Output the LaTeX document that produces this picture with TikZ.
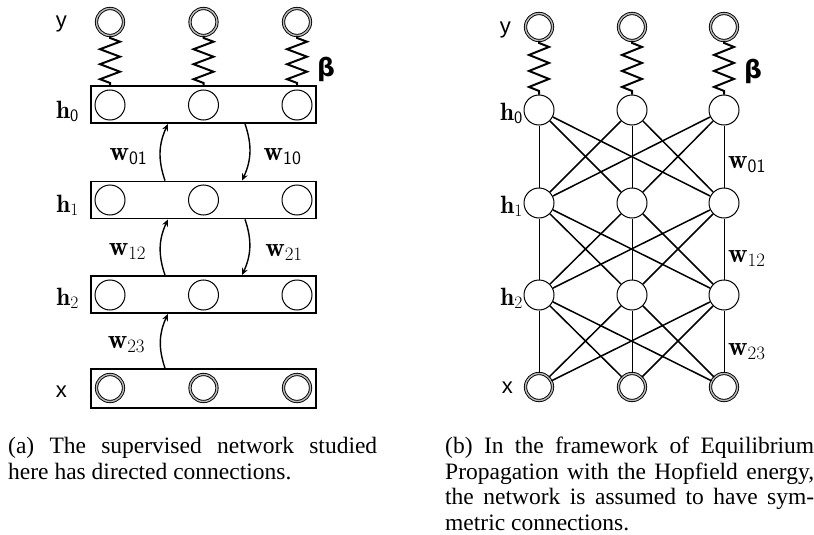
\documentclass[tikz,border=0pt]{standalone}
\usepackage{fix-cm}
\usepackage{fontspec}
\newfontfamily\capfont{Liberation Serif}
\newfontfamily\labelsans{Liberation Sans}
\newfontfamily\betafont{DejaVu Sans}
\usetikzlibrary{decorations.pathmorphing, arrows.meta, calc}
\tikzset{
  layerbox/.style={draw, line width=1.8pt, minimum width=225pt, minimum height=37pt, inner sep=0pt},
  unit/.style={circle, draw, line width=1pt, minimum size=30pt, inner sep=0pt},
  io/.style={circle, draw, line width=0.9pt, double=gray!55, double distance=1.4pt, minimum size=27pt, inner sep=0pt},
  spring/.style={line width=2pt, line join=miter, decorate, decoration={zigzag, segment length=#1, amplitude=10pt, pre length=2pt, post length=2pt}},
  arr/.style={line width=1.4pt, -{Stealth[length=7pt,width=6pt]}, bend left=22},
  conn/.style={line width=1.5pt},
  vconn/.style={line width=1pt},
  lab/.style={font=\fontsize{25}{30}\selectfont, inner sep=0pt},
  wlab/.style={font=\fontsize{27}{32}\selectfont, inner sep=0pt},
  sanslab/.style={font=\labelsans\fontsize{22}{26}\selectfont, inner sep=0pt},
  betalab/.style={font=\betafont\bfseries\fontsize{25}{29}\selectfont, inner sep=0pt},
  captext/.style={font=\capfont\fontsize{23.5}{25.5}\selectfont, text width=369pt, align=justify, inner sep=0pt, anchor=north west},
}
\begin{document}
\begin{tikzpicture}[x=1pt,y=-1pt]
\fill[white] (0,0) rectangle (814,535);
\useasboundingbox (0,0) rectangle (814,535);

% ---------- panel (a) ----------
\node[layerbox] (L0) at (203.5,104.5) {};
\node[layerbox] (L1) at (203.5,200) {};
\node[layerbox] (L2) at (203.5,294.5) {};
\node[layerbox, minimum height=39pt] (LX) at (203.5,388.5) {};
\foreach \i/\x in {1/110,2/203.5,3/297} {
  \node[io] (ya\i) at (\x,22) {};
  \node[unit] (a0\i) at (\x,105) {};
  \node[unit] (a1\i) at (\x,200) {};
  \node[unit] (a2\i) at (\x,295) {};
  \node[io] (xa\i) at (\x,388) {};
  \draw[spring=15pt] (ya\i) -- (ya\i |- L0.north);
}
\coordinate (p01s) at ($(L1.north)+(-38.5,0)$);
\coordinate (p01e) at ($(L0.south)+(-35.5,0)$);
\coordinate (p10s) at ($(L0.south)+(41.5,0)$);
\coordinate (p10e) at ($(L1.north)+(38.5,0)$);
\coordinate (p12s) at ($(L2.north)+(-38.5,0)$);
\coordinate (p12e) at ($(L1.south)+(-35.5,0)$);
\coordinate (p21s) at ($(L1.south)+(41.5,0)$);
\coordinate (p21e) at ($(L2.north)+(38.5,0)$);
\coordinate (p23s) at ($(LX.north)+(-38.5,0)$);
\coordinate (p23e) at ($(L2.south)+(-35.5,0)$);
\draw[arr] (p01s) to (p01e);
\draw[arr] (p10s) to (p10e);
\draw[arr] (p12s) to (p12e);
\draw[arr] (p21s) to (p21e);
\draw[arr] (p23s) to (p23e);

\node[sanslab, anchor=base east] (lya) at (67,28) {y};
\node[lab, anchor=base east] (lh0a) at (79,118) {$\mathbf{h}_{\mathsf{0}}$};
\node[lab, anchor=base east] (lh1a) at (79,212) {$\mathbf{h}_1$};
\node[lab, anchor=base east] (lh2a) at (79,305) {$\mathbf{h}_2$};
\node[sanslab, anchor=base east] (lxa) at (67,397) {x};
\node[betalab] (lba) at (326,69) {β};
\node[wlab, anchor=base] (w01a) at (128.5,160) {$\mathbf{w}_{\mathsf{01}}$};
\node[wlab, anchor=base] (w10a) at (282.5,160) {$\mathbf{w}_{\mathsf{10}}$};
\node[wlab, anchor=base] (w12a) at (127.5,255) {$\mathbf{w}_{12}$};
\node[wlab, anchor=base] (w21a) at (284,256) {$\mathbf{w}_{21}$};
\node[wlab, anchor=base] (w23a) at (126.5,348) {$\mathbf{w}_{23}$};

% ---------- panel (b) ----------
\foreach \i/\x in {1/539,2/632,3/724} {
  \node[io] (yb\i) at (\x,27) {};
  \node[unit] (b0\i) at (\x,110) {};
  \node[unit] (b1\i) at (\x,203) {};
  \node[unit] (b2\i) at (\x,295) {};
  \node[io] (xb\i) at (\x,387) {};
  \draw[spring=16pt] (yb\i) -- (b0\i);
}
\foreach \i in {1,2,3} {
  \foreach \j in {1,2,3} {
    \ifnum\i=\j
      \draw[vconn] (b0\i) -- (b1\j);
      \draw[vconn] (b1\i) -- (b2\j);
      \draw[vconn] (b2\i) -- (xb\j);
    \else
      \draw[conn] (b0\i) -- (b1\j);
      \draw[conn] (b1\i) -- (b2\j);
      \draw[conn] (b2\i) -- (xb\j);
    \fi
  }
}
\node[sanslab, anchor=base east] (lyb) at (511,34) {y};
\node[lab, anchor=base east] (lh0b) at (523,120) {$\mathbf{h}_{\mathsf{0}}$};
\node[lab, anchor=base east] (lh1b) at (523,213) {$\mathbf{h}_1$};
\node[lab, anchor=base east] (lh2b) at (523,305) {$\mathbf{h}_2$};
\node[sanslab, anchor=base east] (lxb) at (513,393) {x};
\node[betalab] (lbb) at (753,71) {β};
\node[wlab, anchor=base west] (w01b) at (728,168) {$\mathbf{w}_{\mathsf{01}}$};
\node[wlab, anchor=base west] (w12b) at (728,262) {$\mathbf{w}_{12}$};
\node[wlab, anchor=base west] (w23b) at (728,355) {$\mathbf{w}_{23}$};

% ---------- captions ----------
\node[captext] (capa) at (8,437) {(a) The supervised network studied\linebreak here has directed connections.};
\node[captext] (capb) at (445,437) {(b) In the framework of Equilibrium\linebreak Propagation with the Hopfield energy,\linebreak the network is assumed to have sym-\linebreak metric connections.};
\end{tikzpicture}
\end{document}
